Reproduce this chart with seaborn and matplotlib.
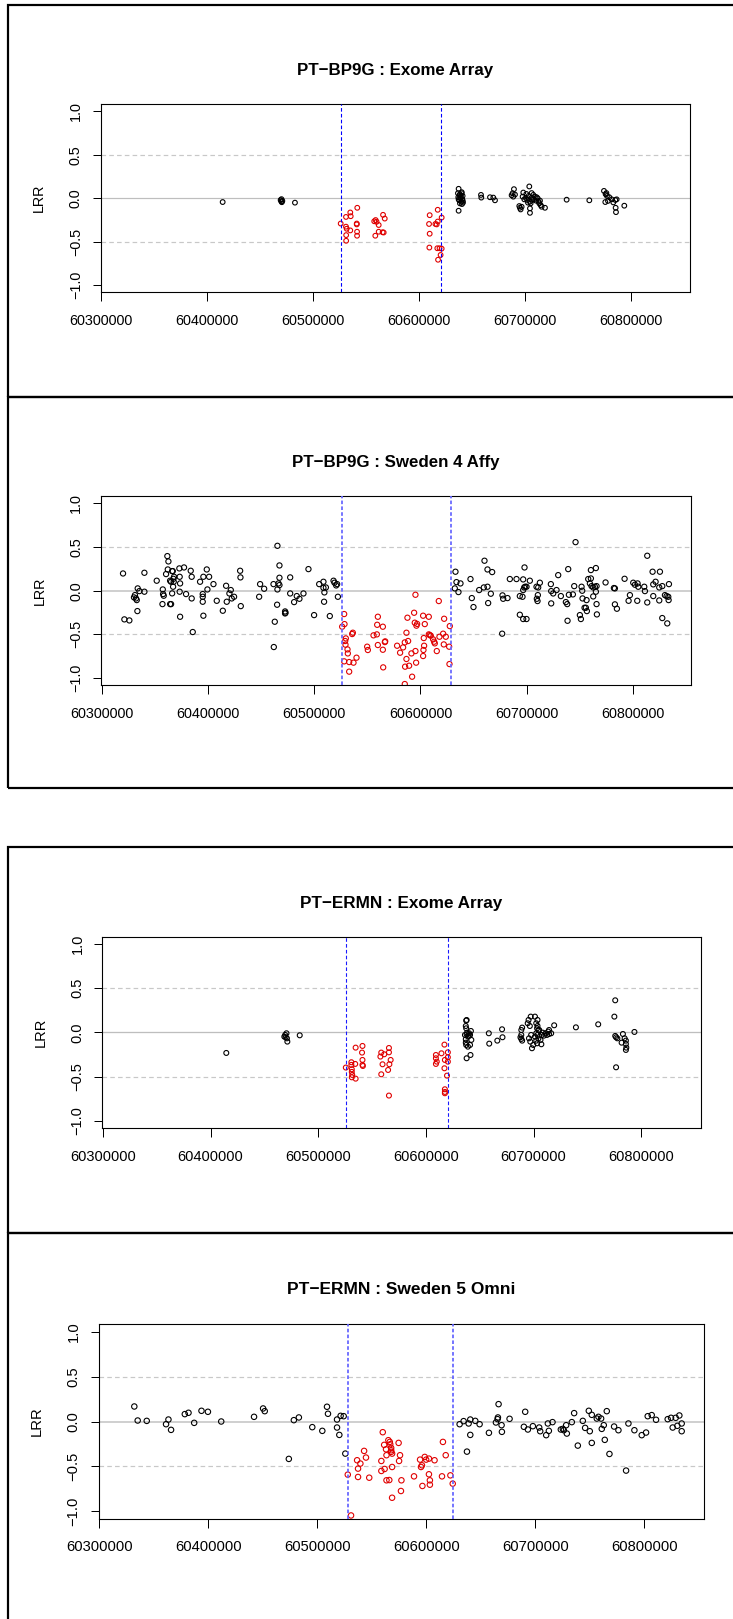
import matplotlib
matplotlib.use("Agg")
import matplotlib.pyplot as plt
from matplotlib.patches import Rectangle
import pandas as pd
import seaborn as sns

# ------------------------------------------------------------------ data
TITLES = ["PT\u2212BP9G : Exome Array", "PT\u2212BP9G : Sweden 4 Affy",
          "PT\u2212ERMN : Exome Array", "PT\u2212ERMN : Sweden 5 Omni"]
Y_LABEL = "LRR"
X_TICKS = [60300000, 60400000, 60500000, 60600000, 60700000, 60800000]
X_TICK_LABELS = ["60300000", "60400000", "60500000", "60600000", "60700000", "60800000"]
Y_TICKS = [-1.0, -0.5, 0.0, 0.5, 1.0]
Y_TICK_LABELS = ["\u22121.0", "\u22120.5", "0.0", "0.5", "1.0"]
X_RANGE = [60299450, 60855000]
Y_RANGE = [-1.08, 1.08]
DASHED_REF = [-0.5, 0.5]
SOLID_REF = [0.0]

BP9G_EXOME_BOUNDS = [60525800, 60620800]
BP9G_EXOME_NORMAL = [
    (60414500, -0.043),
    (60469200, -0.020), (60469800, -0.035), (60470300, -0.045), (60470800, -0.030), (60470000, -0.010),
    (60482700, -0.050),
    (60637100, 0.109), (60637100, -0.143), (60636470, 0.058), (60638360, 0.047), (60639930, 0.058),
    (60640870, 0.027), (60636790, 0.012), (60638990, 0.000), (60640560, -0.012), (60637730, -0.023),
    (60639620, -0.039), (60641190, -0.050), (60638360, -0.058), (60640250, -0.066), (60637100, -0.012),
    (60639300, 0.027), (60640000, 0.070), (60638000, 0.035), (60641000, -0.030),
    (60658200, 0.039), (60658500, 0.008), (60666700, 0.012), (60669800, 0.008), (60671400, -0.023),
    (60687100, 0.035), (60688050, 0.058), (60689300, 0.105), (60688680, 0.019), (60690250, 0.043),
    (60694340, -0.089), (60694970, -0.109), (60695600, -0.128), (60696540, -0.097),
    (60698110, 0.066), (60697480, 0.019), (60699060, -0.012), (60700630, 0.004), (60701890, -0.019),
    (60703150, 0.027), (60703770, 0.136), (60704400, -0.167), (60704400, -0.116), (60704400, -0.039),
    (60705980, 0.008), (60707550, 0.039), (60708180, -0.012), (60709120, 0.019), (60710060, -0.027),
    (60710700, 0.012), (60711640, 0.000), (60712580, -0.039), (60713210, -0.058), (60713840, -0.027),
    (60714470, -0.078), (60715410, -0.097), (60718560, -0.109), (60705030, -0.058), (60706600, -0.019),
    (60702520, -0.050), (60701000, 0.050), (60706000, 0.060),
    (60739000, -0.016), (60760400, -0.023),
    (60774220, 0.085), (60775800, 0.047), (60777050, 0.027), (60779250, 0.012), (60775480, -0.043),
    (60781460, -0.012), (60783030, -0.047), (60784920, -0.019), (60785230, -0.109), (60785550, -0.159),
    (60786170, -0.012), (60793400, -0.085), (60776500, 0.060), (60778000, -0.030),
]
BP9G_EXOME_CNV = [
    (60525850, -0.290), (60530850, -0.214), (60534900, -0.163), (60535300, -0.206), (60541500, -0.109),
    (60530850, -0.326), (60531500, -0.350), (60534900, -0.369), (60531000, -0.423), (60531000, -0.488),
    (60541000, -0.290), (60541000, -0.300), (60541300, -0.384), (60541300, -0.430),
    (60557500, -0.264), (60558800, -0.250), (60559700, -0.270), (60561700, -0.307), (60565800, -0.190),
    (60567400, -0.233), (60558500, -0.430), (60561700, -0.384), (60565400, -0.390), (60566400, -0.393),
    (60609800, -0.194), (60609200, -0.295), (60609800, -0.407), (60609500, -0.566), (60617400, -0.132),
    (60617400, -0.267), (60615200, -0.295), (60616400, -0.300), (60621100, -0.221), (60617000, -0.574),
    (60619100, -0.574), (60621100, -0.578), (60620100, -0.651), (60617700, -0.706),
]

BP9G_AFFY_BOUNDS = [60526300, 60628600]
BP9G_AFFY_NORMAL = [
    (60320090, 0.198), (60321350, -0.328), (60326050, -0.340), (60330400, -0.076), (60331300, -0.050),
    (60332300, -0.088), (60333900, 0.027), (60333000, -0.107), (60333600, -0.233), (60335500, -0.004),
    (60340200, 0.206), (60340200, -0.011), (60351800, 0.115), (60357500, 0.015), (60357800, -0.038),
    (60357200, -0.153), (60358400, -0.057), (60361800, 0.397), (60362800, 0.336), (60362200, 0.244),
    (60360600, 0.191), (60364400, 0.115), (60365300, 0.103), (60364400, -0.153), (60365300, -0.153),
    (60366300, 0.225), (60366900, 0.225), (60367200, 0.046), (60367800, 0.103), (60366300, -0.030),
    (60367500, 0.137), (60368100, 0.160), (60373100, 0.256), (60373400, 0.160), (60373800, 0.084),
    (60373400, -0.011), (60377500, 0.267), (60373800, -0.298), (60379400, -0.038), (60383800, 0.229),
    (60384700, 0.160), (60384700, -0.088), (60385700, -0.473), (60392600, 0.103), (60395700, 0.160),
    (60395100, -0.038), (60395100, -0.069), (60395100, -0.126), (60395700, -0.286), (60398900, 0.244),
    (60401100, 0.160), (60399500, 0.015), (60405200, 0.076), (60408300, -0.115), (60414000, -0.229),
    (60417100, 0.057), (60417700, -0.126), (60420200, -0.031), (60421500, 0.008), (60422400, -0.088),
    (60424600, -0.069), (60430600, 0.153), (60430300, 0.229), (60430900, -0.176), (60448200, -0.069),
    (60449100, 0.076), (60452900, 0.023), (60461700, 0.076), (60462000, -0.645), (60462900, -0.355),
    (60465100, -0.160), (60465400, 0.515), (60466400, 0.084), (60465400, 0.015), (60467300, 0.290),
    (60467300, 0.149), (60467300, 0.065), (60472600, -0.237), (60472600, -0.260), (60473000, -0.252),
    (60477400, 0.153), (60477400, -0.031), (60481100, -0.130), (60483600, -0.061), (60486100, -0.092),
    (60489900, -0.031), (60494600, 0.248), (60499900, -0.279), (60504700, 0.076), (60508700, 0.034),
    (60509600, -0.019), (60509300, -0.126), (60508700, 0.103), (60511000, 0.038), (60514700, -0.290),
    (60518200, 0.115), (60519100, 0.092), (60520700, 0.061), (60521600, 0.076), (60522300, -0.069),
    (60632960, 0.218), (60632330, 0.027), (60633900, 0.099), (60637670, 0.084), (60635780, -0.015),
    (60647090, 0.134), (60648340, -0.084), (60649910, -0.187), (60655250, 0.008), (60659640, 0.038),
    (60663090, 0.046), (60660270, 0.344), (60663090, 0.244), (60667490, 0.214), (60663720, -0.141),
    (60666230, -0.034), (60676910, -0.492), (60677220, -0.053), (60677850, -0.092), (60681930, -0.084),
    (60684130, 0.134), (60690400, 0.134), (60693540, -0.061), (60696050, -0.069), (60693540, -0.275),
    (60696680, -0.324), (60699820, -0.324), (60696680, 0.130), (60697940, 0.267), (60696680, 0.008),
    (60697620, 0.038), (60698560, 0.046), (60699820, 0.046), (60702960, 0.115), (60709240, 0.046),
    (60710810, 0.038), (60712380, 0.092), (60709550, -0.092), (60710490, -0.050), (60710180, -0.118),
    (60722730, 0.076), (60723050, -0.004), (60723050, -0.145), (60724930, -0.031), (60728070, 0.008),
    (60729640, 0.179), (60732150, -0.061), (60736860, -0.130), (60738120, -0.153), (60738430, -0.344),
    (60739060, 0.248), (60739690, -0.046), (60743450, -0.042), (60744710, 0.053), (60745960, 0.557),
    (60750040, -0.279), (60750990, -0.324), (60751610, 0.046), (60752240, 0.000), (60752550, -0.088),
    (60754440, -0.195), (60755690, -0.195), (60756630, -0.233), (60756320, -0.107), (60757890, 0.134),
    (60760400, 0.141), (60759460, 0.084), (60761030, 0.053), (60762600, 0.038), (60764170, 0.046),
    (60765740, 0.053), (60760400, 0.237), (60765110, 0.260), (60762600, -0.065), (60765740, -0.153),
    (60766050, -0.271), (60765110, -0.011), (60774210, 0.095), (60782060, 0.031), (60783000, 0.027),
    (60783000, -0.156), (60784890, -0.206), (60792110, 0.137), (60797130, -0.050), (60795880, -0.115),
    (60800270, 0.092), (60801840, 0.069), (60804040, -0.115), (60804980, 0.046), (60804350, 0.084),
    (60810630, 0.046), (60811260, -0.004), (60813450, -0.134), (60813450, 0.401), (60819100, -0.061),
    (60818470, 0.218), (60821300, 0.103), (60819100, 0.073), (60824750, 0.038), (60824750, -0.111),
    (60825380, 0.218), (60827580, 0.053), (60827580, -0.313), (60830090, -0.050), (60832290, -0.374),
    (60833230, -0.069), (60833860, 0.076), (60831660, -0.061), (60833550, -0.107),
]
BP9G_AFFY_CNV = [
    (60528210, -0.267), (60526320, -0.412), (60528520, -0.382), (60529770, -0.546), (60529150, -0.576),
    (60529460, -0.618), (60528210, -0.809), (60531350, -0.672), (60531660, -0.718), (60532920, -0.817),
    (60532920, -0.927), (60536370, -0.481), (60535740, -0.496), (60536990, -0.824), (60539820, -0.767),
    (60549860, -0.641), (60550490, -0.679), (60555830, -0.511), (60558970, -0.500), (60559280, -0.390),
    (60559910, -0.298), (60559910, -0.622), (60564620, -0.412), (60564620, -0.676), (60564930, -0.878),
    (60566820, -0.580), (60566500, -0.588),
    (60578030, -0.630), (60580850, -0.710), (60583680, -0.649), (60585250, -0.592), (60586820, -0.481),
    (60587760, -0.309), (60585560, -0.870), (60585250, -1.069), (60586820, -0.782), (60588390, -0.576),
    (60589330, -0.859), (60592150, -0.985), (60591520, -0.718), (60594040, -0.252), (60594660, -0.366),
    (60595290, -0.691), (60595920, -0.824), (60596230, -0.400), (60596860, -0.380), (60595290, -0.046),
    (60602510, -0.286), (60607850, -0.298), (60603140, -0.542), (60603450, -0.630), (60602830, -0.679),
    (60602510, -0.748), (60604080, -0.382), (60607850, -0.500), (60608790, -0.508), (60609730, -0.515),
    (60611930, -0.557), (60612870, -0.584), (60613500, -0.603), (60615380, -0.691), (60617260, -0.118),
    (60617890, -0.527), (60621350, -0.492), (60622290, -0.321), (60621970, -0.615), (60623860, -0.527),
    (60627000, -0.641), (60627620, -0.405), (60627310, -0.840),
]

ERMN_EXOME_BOUNDS = [60525700, 60620300]
ERMN_EXOME_NORMAL = [
    (60414600, -0.233),
    (60468510, -0.049), (60469300, -0.030), (60470500, -0.011), (60470900, -0.068), (60471300, -0.105),
    (60469700, -0.056), (60482800, -0.034),
    (60637010, 0.071), (60637400, 0.045), (60637800, 0.139), (60637400, 0.132), (60638200, -0.004),
    (60637800, -0.023), (60636220, -0.030), (60637010, -0.079), (60637400, -0.143), (60638990, -0.162),
    (60639790, -0.041), (60640980, -0.030), (60642170, -0.086), (60640980, -0.143), (60637800, -0.293),
    (60641380, -0.256), (60640190, -0.011), (60641780, 0.015), (60638990, -0.049), (60637010, -0.117),
    (60658400, -0.011), (60658800, -0.128), (60666300, -0.094), (60670700, 0.034), (60671100, -0.056),
    (60688570, 0.026), (60689360, 0.053), (60688570, -0.030), (60687780, -0.056), (60688570, -0.075),
    (60689360, -0.094),
    (60694520, 0.102), (60695310, 0.139), (60696500, 0.071), (60697300, 0.177),
    (60695700, -0.068), (60696900, -0.105), (60698480, -0.180), (60699670, -0.143), (60697690, -0.030),
    (60701260, 0.177), (60703640, 0.139), (60702450, 0.102), (60703640, 0.071), (60703240, 0.045),
    (60704430, 0.026), (60702450, -0.011), (60703640, -0.030), (60701260, -0.049), (60704430, -0.071),
    (60702450, -0.094), (60703240, -0.124), (60705220, 0.026), (60707600, -0.030), (60708400, -0.004),
    (60706410, -0.086), (60707200, -0.135), (60709580, -0.038), (60711170, -0.011), (60712360, -0.030),
    (60713550, 0.008), (60714340, 0.026), (60714340, -0.019), (60716330, -0.011),
    (60719100, 0.079), (60739300, 0.056), (60760000, 0.090),
    (60775000, 0.177), (60775800, 0.361), (60776600, -0.395), (60775800, -0.041), (60776600, -0.056),
    (60777780, -0.068), (60781750, -0.117), (60782940, -0.019), (60784530, -0.068), (60785710, -0.094),
    (60785710, -0.132), (60786110, -0.173), (60785710, -0.199), (60793640, 0.004),
]
ERMN_EXOME_CNV = [
    (60525600, -0.398), (60530750, -0.338), (60530750, -0.368), (60531150, -0.417), (60531150, -0.447),
    (60531540, -0.481), (60531150, -0.508), (60534720, -0.173), (60534330, -0.357), (60534720, -0.523),
    (60541070, -0.154), (60540670, -0.229), (60541070, -0.312), (60541070, -0.368), (60541460, -0.380),
    (60558520, -0.229), (60557720, -0.274), (60559710, -0.361), (60561290, -0.248), (60558520, -0.474),
    (60565660, -0.177), (60565660, -0.226), (60566050, -0.361), (60564860, -0.425), (60567240, -0.312),
    (60565660, -0.714),
    (60609270, -0.256), (60609270, -0.293), (60610060, -0.331), (60609270, -0.357), (60614420, -0.237),
    (60617200, -0.139), (60617600, -0.312), (60617200, -0.406), (60620370, -0.226), (60620370, -0.282),
    (60620370, -0.331), (60619580, -0.489), (60617600, -0.643), (60617600, -0.673), (60617600, -0.688),
]

ERMN_OMNI_BOUNDS = [60528100, 60624200]
ERMN_OMNI_NORMAL = [
    (60332200, 0.167), (60335300, 0.011), (60343600, 0.007), (60361300, -0.030), (60363500, 0.022),
    (60365900, -0.093), (60378500, 0.082), (60381900, 0.097), (60387100, -0.015), (60393800, 0.119),
    (60399700, 0.108), (60411900, 0.000), (60442000, 0.052), (60450300, 0.145), (60451800, 0.115),
    (60473900, -0.416), (60478500, 0.015), (60483100, 0.045), (60495400, -0.063), (60504600, -0.104),
    (60508900, 0.164), (60509800, 0.086), (60518100, 0.022), (60518100, -0.067), (60520200, -0.149),
    (60521400, 0.063), (60524200, 0.059), (60525700, -0.357),
    (60630530, -0.030), (60634190, 0.004), (60638770, -0.022), (60640300, 0.022), (60644880, 0.007),
    (60648850, -0.030), (60637250, -0.335), (60640300, -0.149), (60657400, -0.126), (60663810, -0.011),
    (60665330, 0.026), (60665640, 0.045), (60666250, 0.193), (60669000, -0.041), (60669300, -0.115),
    (60676330, 0.030), (60689450, -0.059), (60693120, -0.089), (60697700, -0.052), (60703500, -0.067),
    (60704410, -0.108), (60709910, -0.152), (60712350, -0.104), (60690670, 0.108), (60711430, -0.022),
    (60715710, -0.007), (60723340, -0.089), (60725170, -0.082), (60726090, -0.097), (60728230, -0.041),
    (60728840, -0.134), (60733420, -0.007), (60735550, 0.093), (60738910, -0.268), (60743490, 0.007),
    (60745630, -0.071), (60748990, 0.119), (60749900, -0.108), (60751730, 0.074), (60751730, -0.238),
    (60756310, 0.033), (60757840, 0.052), (60760280, 0.033), (60762720, -0.041), (60765470, 0.115),
    (60760890, -0.082), (60763640, -0.204), (60767920, -0.361), (60772190, -0.056), (60776160, -0.097),
    (60785320, -0.022), (60783180, -0.546), (60790810, -0.097), (60797530, -0.152), (60801500, -0.123),
    (60803020, 0.059), (60806690, 0.071), (60810660, 0.019), (60821340, 0.026), (60824400, 0.041),
    (60825920, -0.067), (60828670, 0.041), (60830200, -0.048), (60832030, 0.067), (60834170, -0.022),
    (60834170, -0.108),
]
ERMN_OMNI_CNV = [
    (60527960, -0.591), (60530960, -1.045), (60536520, -0.431), (60537370, -0.524), (60537370, -0.617),
    (60542930, -0.327), (60544640, -0.401), (60539510, -0.468), (60547640, -0.625), (60558750, -0.439),
    (60558750, -0.550), (60560040, -0.119), (60561320, -0.260), (60563030, -0.309), (60563460, -0.375),
    (60561750, -0.528), (60563460, -0.654), (60566030, -0.651), (60565170, -0.208), (60566460, -0.227),
    (60567740, -0.320), (60567740, -0.338), (60568600, -0.357), (60567740, -0.294), (60566880, -0.253),
    (60568600, -0.506), (60568600, -0.848), (60574580, -0.238), (60575010, -0.439), (60575870, -0.375),
    (60577150, -0.654), (60576720, -0.773), (60588700, -0.610), (60594260, -0.424), (60595110, -0.506),
    (60595970, -0.487), (60596400, -0.717), (60598540, -0.394), (60599820, -0.424), (60602380, -0.413),
    (60602380, -0.587), (60603240, -0.654), (60603240, -0.703), (60607520, -0.431), (60614360, -0.610),
    (60615210, -0.227), (60617780, -0.375), (60622060, -0.599), (60624200, -0.691),
]

# ------------------------------------------------------------------ layout / style
W, H, DPI = 733, 1619, 100
PX = 0.72  # points per pixel at 100 dpi
RED = "#E00000"
PALETTE = {"normal": "#000000", "cnv": RED}

plt.rcParams["font.family"] = ["Liberation Sans", "DejaVu Sans"]
plt.rcParams["lines.scale_dashes"] = False

PANELS = [
    dict(title=TITLES[0], normal=BP9G_EXOME_NORMAL, cnv=BP9G_EXOME_CNV, bounds=BP9G_EXOME_BOUNDS,
         axes=(100.7, 104.3, 689.6, 292.3), title_base=75.3, box=(8.4, 5.0, 800.0, 397.3),
         msize=4.7, blue="#0000FF", blw=1.1, zlw=1.2, zcol="#BEBEBE"),
    dict(title=TITLES[1], normal=BP9G_AFFY_NORMAL, cnv=BP9G_AFFY_CNV, bounds=BP9G_AFFY_BOUNDS,
         axes=(101.1, 496.5, 691.4, 685.0), title_base=467.4, box=(8.4, 397.3, 800.0, 788.3),
         msize=5.2, blue="#6A6AFF", blw=1.8, zlw=2.0, zcol="#D0D0D0"),
    dict(title=TITLES[2], normal=ERMN_EXOME_NORMAL, cnv=ERMN_EXOME_CNV, bounds=ERMN_EXOME_BOUNDS,
         axes=(102.3, 936.6, 700.5, 1128.0), title_base=907.7, box=(8.4, 846.7, 800.0, 1233.4),
         msize=4.9, blue="#1A1AFF", blw=1.1, zlw=1.3, zcol="#BEBEBE"),
    dict(title=TITLES[3], normal=ERMN_OMNI_NORMAL, cnv=ERMN_OMNI_CNV, bounds=ERMN_OMNI_BOUNDS,
         axes=(98.6, 1324.4, 704.4, 1518.6), title_base=1294.3, box=(8.4, 1233.4, 800.0, 1700.0),
         msize=5.4, blue="#6060FF", blw=1.7, zlw=1.7, zcol="#C8C8C8"),
]

fig = plt.figure(figsize=(W / DPI, H / DPI), dpi=DPI, facecolor="white")

for p in PANELS:
    l, t, r, b = p["axes"]
    scale = (r - l) / 588.9
    tick_fs = 14.4 * scale * PX
    title_fs = 16.9 * scale * PX

    # outer panel frame
    bx0, by0, bx1, by1 = p["box"]
    fig.patches.append(Rectangle((bx0 / W, 1 - by1 / H), (bx1 - bx0) / W, (by1 - by0) / H,
                                 transform=fig.transFigure, fill=False, edgecolor="black",
                                 linewidth=2.2 * PX, clip_on=False))

    ax = fig.add_axes([l / W, 1 - b / H, (r - l) / W, (b - t) / H])
    ax.set_facecolor("white")

    rows = [(x, y, "normal") for x, y in p["normal"]] + [(x, y, "cnv") for x, y in p["cnv"]]
    df = pd.DataFrame(rows, columns=["pos", "lrr", "status"])

    for yv in SOLID_REF:
        ax.axhline(yv, color=p["zcol"], linewidth=p["zlw"] * PX, zorder=1)
    for yv in DASHED_REF:
        ax.axhline(yv, color="#C8C8C8", linewidth=1.2 * PX, linestyle=(0, (3.3, 2.3)), zorder=1)
    for xv in p["bounds"]:
        ax.axvline(xv, color=p["blue"], linewidth=p["blw"] * PX, linestyle=(0, (2.6, 1.6)), zorder=3)

    sns.scatterplot(data=df, x="pos", y="lrr", hue="status", palette=PALETTE, legend=False,
                    ax=ax, s=(p["msize"] * PX) ** 2, marker="o", linewidth=1.1 * PX, zorder=2)
    for coll in ax.collections:
        fc = coll.get_facecolors()
        coll.set_edgecolors(fc)
        coll.set_facecolors("none")

    ax.set_xlim(*X_RANGE)
    ax.set_ylim(*Y_RANGE)
    ax.set_xticks(X_TICKS)
    ax.set_xticklabels(X_TICK_LABELS)
    ax.set_yticks(Y_TICKS)
    ax.set_yticklabels(Y_TICK_LABELS, rotation=90, va="center")
    ax.set_xlabel("")
    ax.set_ylabel("")
    ax.grid(False)
    ax.tick_params(axis="both", direction="out", length=8.5 * PX, width=1.0 * PX,
                   colors="black", labelsize=tick_fs)
    ax.tick_params(axis="x", pad=13.0 * PX)
    ax.tick_params(axis="y", pad=9.4 * PX)
    for sp in ax.spines.values():
        sp.set_color("black")
        sp.set_linewidth(1.1 * PX)
        sp.set_visible(True)

    fig.text(((l + r) / 2) / W, 1 - p["title_base"] / H, p["title"], ha="center", va="baseline",
             fontsize=title_fs, fontweight="bold", color="black")
    fig.text((l - 63.0 + 1.5) / W, 1 - ((t + b) / 2) / H, Y_LABEL, rotation=90, ha="center",
             va="center", fontsize=tick_fs, color="black")

fig.savefig("out.png", dpi=DPI, facecolor="white")
